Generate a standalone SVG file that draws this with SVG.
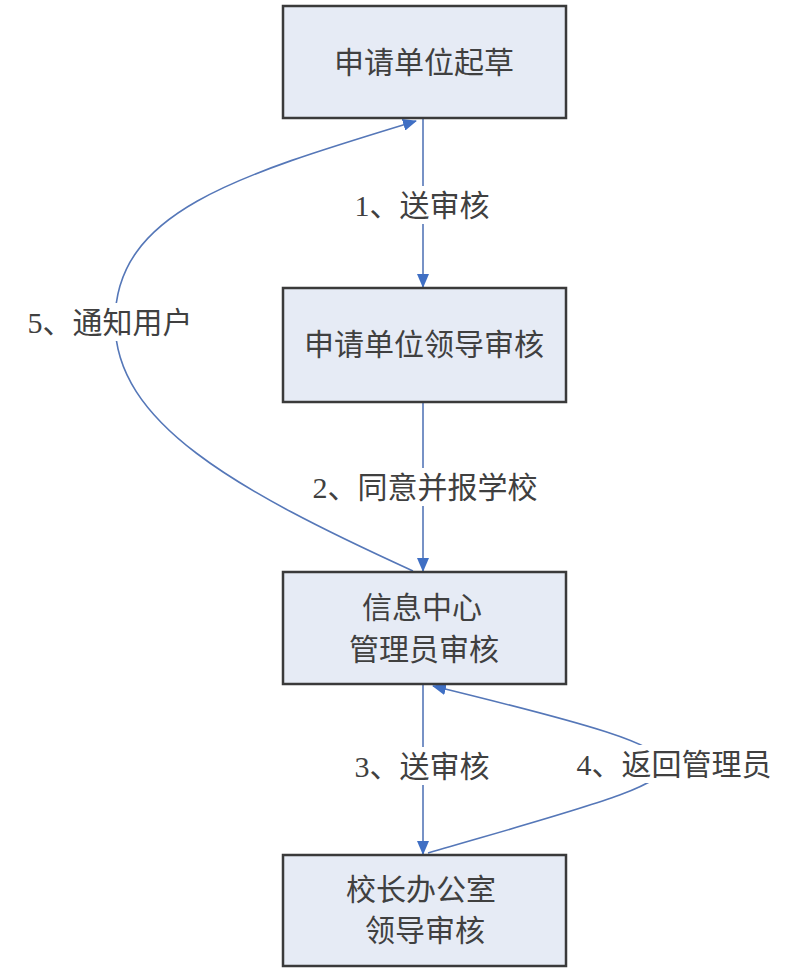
<svg xmlns="http://www.w3.org/2000/svg" width="807" height="973" viewBox="0 0 807 973">
<style>
.box{fill:#e6ebf5;stroke:#3a3a3a;stroke-width:2.5}
.t{font-family:"Liberation Serif","Noto Sans CJK SC",serif;font-size:30px;fill:#404040;text-anchor:middle;dominant-baseline:central}
.c{fill:none;stroke:#5577b8;stroke-width:1.6}
.bg{fill:#ffffff}
</style>
<defs>
<marker id="ah" viewBox="0 0 14 12" refX="13" refY="6" markerWidth="14" markerHeight="12" markerUnits="userSpaceOnUse" orient="auto">
<path d="M0,0 L14,6 L0,12 Z" fill="#3f6fc4"/>
</marker>
</defs>
<rect width="807" height="973" fill="#ffffff"/>
<g id="connectors">
<path class="c" d="M423,119 L423,287" marker-end="url(#ah)"/>
<path class="c" d="M423,402 L423,571" marker-end="url(#ah)"/>
<path class="c" d="M423,685 L423,854" marker-end="url(#ah)"/>
<path class="c" d="M413,571 C233,489 115,422 115,322 C115,212 235,176 416,121" marker-end="url(#ah)"/>
<path class="c" d="M428,853 C720,768 765,767 433,686" marker-end="url(#ah)"/>
<g id="labels">
<rect class="bg" x="352" y="186" width="142" height="38"/>
<text class="t" x="422" y="205">1、送审核</text>
<rect class="bg" x="308" y="468" width="234" height="38"/>
<text class="t" x="425" y="487">2、同意并报学校</text>
<rect class="bg" x="350" y="747" width="144" height="38"/>
<text class="t" x="422" y="766">3、送审核</text>
<rect class="bg" x="570" y="745" width="210" height="38"/>
<text class="t" x="674" y="764">4、返回管理员</text>
<rect class="bg" x="22" y="303" width="178" height="38"/>
<text class="t" x="110" y="322">5、通知用户</text>
</g>
</g>
<g id="n1">
<rect class="box" x="283" y="6" width="283" height="112"/>
<text class="t" x="424" y="62">申请单位起草</text>
</g>
<g id="n2">
<rect class="box" x="283" y="288" width="283" height="114"/>
<text class="t" x="424" y="344">申请单位领导审核</text>
</g>
<g id="n3">
<rect class="box" x="283" y="572" width="283" height="112"/>
<text class="t" x="422" y="607">信息中心</text>
<text class="t" x="424" y="649">管理员审核</text>
</g>
<g id="n4">
<rect class="box" x="283" y="855" width="283" height="111"/>
<text class="t" x="421" y="889">校长办公室</text>
<text class="t" x="425" y="930">领导审核</text>
</g>
</svg>
